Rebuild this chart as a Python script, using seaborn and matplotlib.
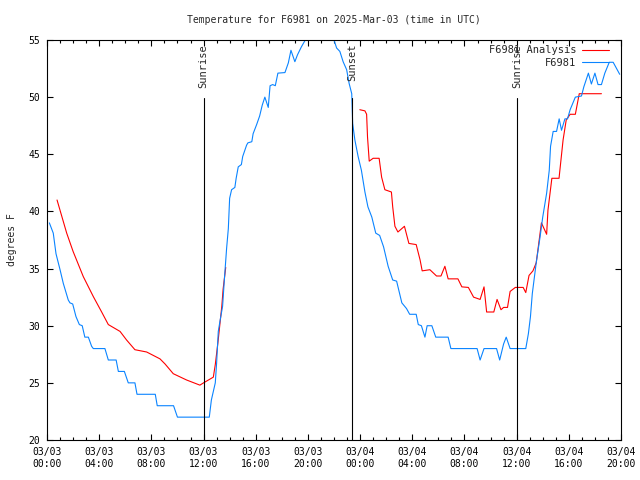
import numpy as np
import pandas as pd
import matplotlib
matplotlib.use("Agg")
import matplotlib.pyplot as plt
import matplotlib.dates as mdates
import seaborn as sns

# -----------------------------
# DATA (hours since 2025-03-03 00:00 UTC, degrees F)
# -----------------------------
obs_hours = [0.18, 0.48, 0.69, 1.0, 1.25, 1.63, 1.76, 1.97, 2.22, 2.48, 2.7, 2.9, 3.17, 3.42, 3.55,
             4.44, 4.7, 5.3, 5.47, 5.93, 6.23, 6.74, 6.9, 8.3, 8.45, 9.7, 10.0, 12.44, 12.6, 12.9,
             13.0, 13.13, 13.26, 13.46, 13.6, 13.77, 13.9, 14.0, 14.15, 14.4, 14.5, 14.66, 14.9,
             15.0, 15.3, 15.4, 15.7, 15.8, 16.07, 16.3, 16.5, 16.7, 16.96, 17.1, 17.3, 17.5, 17.7,
             18.24, 18.5, 18.7, 19.0, 19.2, 19.5, 19.8, 20.3, 20.9, 21.4, 22.0, 22.2, 22.45, 22.7,
             22.97, 23.16, 23.36, 23.43, 23.6, 23.85, 24.1, 24.37, 24.6, 24.9, 25.2, 25.5, 25.8,
             26.15, 26.5, 26.8, 27.2, 27.56, 27.8, 28.3, 28.46, 28.7, 28.97, 29.14, 29.5, 29.8,
             30.75, 30.96, 32.97, 33.2, 33.5, 34.46, 34.7, 35.0, 35.2, 35.5, 36.7, 36.9, 37.06,
             37.2, 37.5, 37.8, 38.0, 38.3, 38.5, 38.6, 38.8, 39.06, 39.26, 39.44, 39.7, 39.9, 40.1,
             40.5, 40.97, 41.15, 41.5, 41.73, 42.0, 42.24, 42.5, 42.76, 43.1, 43.4, 43.9]
obs_temp = [39.0, 38.1, 36.3, 34.9, 33.7, 32.25, 32.0, 31.9, 30.8, 30.1, 30.0, 29.0, 29.0, 28.2, 28.0,
            28.0, 27.0, 27.0, 26.0, 26.0, 25.0, 25.0, 24.0, 24.0, 23.0, 23.0, 22.0, 22.0, 23.5, 25.0,
            26.7, 29.5, 30.4, 31.7, 34.1, 36.8, 38.5, 41.15, 41.9, 42.1, 42.9, 43.9, 44.1,
            44.8, 45.8, 46.0, 46.1, 46.8, 47.6, 48.35, 49.3, 50.0, 49.1, 51.0, 51.1, 51.0, 52.1,
            52.15, 53.0, 54.1, 53.1, 53.7, 54.4, 55.0, 56.0, 56.6, 56.3, 55.0, 54.3, 54.0, 53.1,
            52.4, 51.2, 50.3, 47.7, 46.25, 44.8, 43.6, 41.7, 40.4, 39.5, 38.1, 37.9, 36.9,
            35.2, 34.0, 33.9, 32.0, 31.5, 31.0, 31.0, 30.1, 30.0, 29.0, 30.0, 30.0, 29.0,
            29.0, 28.0, 28.0, 27.0, 28.0, 28.0, 27.0, 28.4, 29.0, 28.0, 28.0, 29.3, 30.8,
            32.8, 35.5, 37.8, 39.5, 41.6, 43.6, 45.7, 47.0, 47.0, 48.1, 47.1, 48.1, 48.1, 48.9,
            50.0, 50.1, 50.9, 52.1, 51.15, 52.1, 51.1, 51.1, 52.1, 53.05, 53.05, 52.0]

ana1_hours = [0.77, 1.51, 2.0, 2.78, 3.55, 4.19, 4.7, 5.6, 6.1, 6.74, 7.64, 8.66, 9.05, 9.68,
              10.7, 11.72, 12.0, 12.75, 12.9, 13.1, 13.4, 13.5, 13.7]
ana1_temp = [41.0, 38.1, 36.5, 34.3, 32.55, 31.2, 30.1, 29.5, 28.75, 27.9, 27.7, 27.1, 26.65, 25.8,
             25.25, 24.8, 25.0, 25.5, 26.6, 28.5, 31.7, 33.2, 35.1]

ana2_hours = [23.98, 24.37, 24.5, 24.57, 24.7, 25.0, 25.46, 25.65, 25.9, 26.4, 26.5, 26.67, 26.9,
              27.4, 27.74, 28.3, 28.6, 28.76, 29.35, 29.86, 30.2, 30.5, 30.75, 31.5, 31.8, 32.3,
              32.7, 33.2, 33.5, 33.7, 34.25, 34.5, 34.8, 35.0, 35.3, 35.5, 35.9, 36.5, 36.7,
              36.95, 37.25, 37.5, 37.65, 37.9, 38.3, 38.4, 38.7, 39.25, 39.56, 39.8, 40.1, 40.5,
              40.8, 42.5]
ana2_temp = [48.9, 48.8, 48.5, 46.5, 44.4, 44.65, 44.65, 43.0, 41.9, 41.7, 40.4, 38.7, 38.2,
             38.7, 37.2, 37.1, 35.75, 34.8, 34.9, 34.35, 34.35, 35.2, 34.1, 34.1, 33.4, 33.35,
             32.5, 32.3, 33.4, 31.2, 31.2, 32.3, 31.4, 31.6, 31.6, 33.0, 33.35, 33.35, 32.9,
             34.4, 34.8, 35.5, 36.8, 39.0, 38.0, 40.1, 42.9, 42.9, 46.25, 48.0, 48.5, 48.5,
             50.3, 50.3]

event_hours = [12.0, 23.38, 36.03]
event_names = ["Sunrise", "Sunset", "Sunrise"]

start = pd.Timestamp("2025-03-03 00:00")


def to_time(hours):
    return start + pd.to_timedelta(np.array(hours), unit="h")


obs = pd.DataFrame({"time": to_time(obs_hours), "temp": obs_temp})
ana = pd.concat([
    pd.DataFrame({"time": to_time(ana1_hours), "temp": ana1_temp, "seg": 0}),
    pd.DataFrame({"time": to_time(ana2_hours), "temp": ana2_temp, "seg": 1}),
])

# -----------------------------
# STYLE (gnuplot look)
# -----------------------------
sns.set_theme(style="white")
plt.rcParams["font.family"] = ["DejaVu Sans Mono"]
plt.rcParams["font.size"] = 7
plt.rcParams["xtick.direction"] = "in"
plt.rcParams["ytick.direction"] = "in"

fig = plt.figure(figsize=(6.4, 4.8), dpi=100)
ax = fig.add_axes([47 / 640, 40 / 480, 574 / 640, 400 / 480])

red = "#ff0000"
blue = "#0a84ff"

sns.lineplot(data=ana, x="time", y="temp", units="seg", estimator=None,
             color=red, lw=0.8, ax=ax, label="F6981 Analysis")
sns.lineplot(data=obs, x="time", y="temp", color=blue, lw=0.8, ax=ax, label="F6981")

for h, name in zip(event_hours, event_names):
    t = start + pd.Timedelta(hours=h)
    ax.axvline(t, ymin=0, ymax=0.855, color="black", lw=0.8)
    ax.text(t, 0.99, name, transform=ax.get_xaxis_transform(), rotation=90,
            ha="center", va="top", fontsize=7.5)

ax.set_xlim(start, start + pd.Timedelta(hours=44))
ax.set_ylim(20, 55)
ax.set_yticks(range(20, 56, 5))
ax.xaxis.set_major_locator(mdates.HourLocator(byhour=range(0, 24, 4)))
ax.xaxis.set_minor_locator(mdates.HourLocator())
ax.xaxis.set_major_formatter(mdates.DateFormatter("%m/%d\n%H:%M"))

ax.tick_params(which="both", top=True, right=True, bottom=True, left=True,
               colors="black", labelsize=7, width=0.8)
ax.tick_params(which="major", length=4.5, pad=5)
ax.tick_params(which="minor", length=2.5)

for spine in ax.spines.values():
    spine.set_color("black")
    spine.set_linewidth(0.8)

ax.set_xlabel("")
ax.set_ylabel("degrees F", fontsize=7, labelpad=8)
ax.set_title("Temperature for F6981 on 2025-Mar-03 (time in UTC)", fontsize=7, pad=12)

# one legend entry per series
handles, labels = ax.get_legend_handles_labels()
uniq = dict(zip(labels, handles))
ax.legend(list(uniq.values()), list(uniq.keys()), loc="upper right",
          bbox_to_anchor=(0.988, 0.998), frameon=False,
          markerfirst=False, fontsize=7.5, handlelength=2.6, borderaxespad=0.15,
          borderpad=0.3, labelspacing=0.25, handletextpad=0.6)

fig.savefig("out.png", dpi=100)
